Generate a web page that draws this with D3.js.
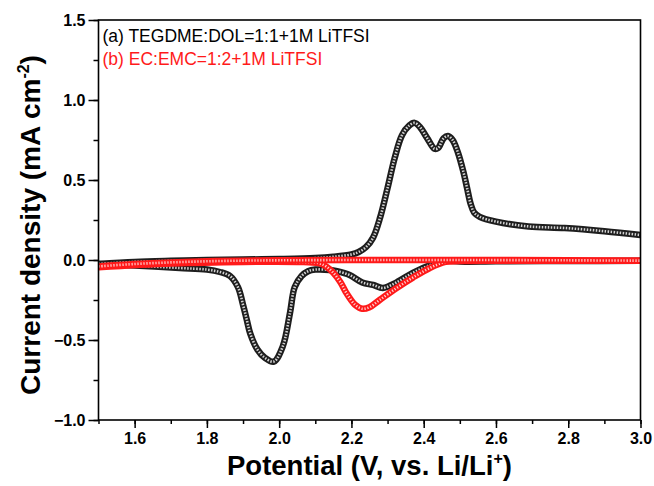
<!DOCTYPE html>
<html>
<head>
<meta charset="utf-8">
<script src="https://cdn.jsdelivr.net/npm/d3@7"></script>
<style>
  body { margin: 0; background: #fff; }
  svg { font-family: "Liberation Sans", Arial, sans-serif; }
</style>
</head>
<body>
<svg id="chart" width="654" height="486"></svg>
<script>
// (a) TEGDME:DOL — anodic scan (1.5 -> 3.0 V)
var aAnodicV = [1.50, 1.60, 1.70, 1.80, 1.90, 2.00, 2.10, 2.15, 2.20, 2.22, 2.24, 2.26, 2.28, 2.30, 2.32, 2.34, 2.36, 2.375, 2.39, 2.41, 2.43, 2.44, 2.455, 2.467, 2.48, 2.495, 2.51, 2.52, 2.53, 2.54, 2.555, 2.60, 2.69, 2.79, 2.90, 3.00];
var aAnodicI = [-0.025, -0.012, -0.005, 0.0, 0.003, 0.006, 0.012, 0.02, 0.035, 0.05, 0.08, 0.14, 0.27, 0.45, 0.64, 0.78, 0.84, 0.857, 0.83, 0.76, 0.695, 0.70, 0.76, 0.775, 0.75, 0.67, 0.55, 0.45, 0.35, 0.295, 0.27, 0.24, 0.21, 0.20, 0.18, 0.156];
// (a) cathodic scan (3.0 -> 1.5 V)
var aCathodicV = [3.00, 2.80, 2.60, 2.50, 2.46, 2.42, 2.37, 2.325, 2.287, 2.26, 2.23, 2.195, 2.16, 2.14, 2.10, 2.08, 2.062, 2.043, 2.03, 2.01, 1.985, 1.96, 1.94, 1.92, 1.91, 1.90, 1.886, 1.864, 1.836, 1.80, 1.725, 1.60, 1.50];
var aCathodicI = [-0.005, -0.006, -0.008, -0.01, -0.005, -0.03, -0.08, -0.14, -0.175, -0.156, -0.14, -0.094, -0.07, -0.062, -0.06, -0.07, -0.10, -0.17, -0.33, -0.54, -0.635, -0.61, -0.56, -0.46, -0.37, -0.28, -0.17, -0.10, -0.075, -0.06, -0.05, -0.035, -0.025];

// (b) EC:EMC — anodic scan
var bAnodicV = [1.50, 1.60, 1.70, 1.80, 1.90, 2.00, 2.20, 2.50, 2.80, 3.00];
var bAnodicI = [-0.04, -0.025, -0.015, -0.008, -0.004, -0.002, 0.0, 0.0, -0.002, -0.004];
// (b) cathodic scan
var bCathodicV = [3.00, 2.60, 2.50, 2.46, 2.417, 2.37, 2.325, 2.278, 2.25, 2.23, 2.21, 2.187, 2.17, 2.15, 2.13, 2.11, 2.05, 1.90, 1.70, 1.50];
var bCathodicI = [-0.004, -0.005, -0.007, -0.012, -0.05, -0.11, -0.175, -0.25, -0.295, -0.305, -0.28, -0.21, -0.14, -0.08, -0.04, -0.02, -0.012, -0.012, -0.022, -0.045];

var xTicks = [1.6, 1.8, 2.0, 2.2, 2.4, 2.6, 2.8, 3.0];
var yTicks = [-1.0, -0.5, 0.0, 0.5, 1.0, 1.5];
var legendLabels = ["(a) TEGDME:DOL=1:1+1M LiTFSI", "(b) EC:EMC=1:2+1M LiTFSI"];

var margin = { top: 20, right: 13.5, bottom: 66, left: 98.5 };
var W = 654, H = 486;
var width = W - margin.left - margin.right;
var height = H - margin.top - margin.bottom;

var svg = d3.select("#chart");
var g = svg.append("g").attr("transform", "translate(" + margin.left + "," + margin.top + ")");

var x = d3.scaleLinear().domain([1.5, 3.0]).range([0, width]);
var y = d3.scaleLinear().domain([-1.0, 1.5]).range([height, 0]);

g.append("clipPath").attr("id", "clip")
  .append("rect").attr("width", width).attr("height", height);

function zip(vs, is) {
  return vs.map(function (v, i) { return [v, is[i]]; });
}

var line = d3.line()
  .x(function (d) { return x(d[0]); })
  .y(function (d) { return y(d[1]); })
  .curve(d3.curveCatmullRom.alpha(0.5));

var plot = g.append("g").attr("clip-path", "url(#clip)");

// draw one branch as a band of overlapping open circles
function drawBranch(data, color, inner, dash) {
  plot.append("path")
    .attr("d", line(data))
    .attr("fill", "none")
    .attr("stroke", color)
    .attr("stroke-width", 6.5)
    .attr("stroke-linejoin", "round");
  plot.append("path")
    .attr("d", line(data))
    .attr("fill", "none")
    .attr("stroke", "#fff")
    .attr("stroke-opacity", 0.8)
    .attr("stroke-width", inner)
    .attr("stroke-dasharray", dash);
}

drawBranch(zip(aCathodicV, aCathodicI), "#1e1e1e", 2.6, "1.5 1.5");
drawBranch(zip(aAnodicV, aAnodicI), "#1e1e1e", 2.6, "1.5 1.5");
drawBranch(zip(bCathodicV, bCathodicI), "#ff1a1a", 2.6, "1.2 1.8");
drawBranch(zip(bAnodicV, bAnodicI), "#ff1a1a", 2.6, "1.2 1.8");

// axes: major + minor ticks
var xAxisG = g.append("g").attr("transform", "translate(0," + height + ")");
xAxisG.call(d3.axisBottom(x).tickValues(d3.range(1.5, 3.01, 0.1)).tickSize(4).tickFormat(""));
xAxisG.append("g").call(d3.axisBottom(x).tickValues(xTicks).tickSize(8).tickPadding(5).tickFormat(d3.format(".1f")));

var yAxisG = g.append("g");
yAxisG.call(d3.axisLeft(y).tickValues(d3.range(-1.0, 1.51, 0.25)).tickSize(5).tickFormat(""));
yAxisG.append("g").call(d3.axisLeft(y).tickValues(yTicks).tickSize(10).tickPadding(3).tickFormat(d3.format(".1f")));

g.selectAll(".domain").remove();
g.selectAll(".tick line").attr("stroke", "#000").attr("stroke-width", 1.5);
g.selectAll(".tick text")
  .attr("fill", "#000")
  .attr("font-family", "'Liberation Sans', Arial, sans-serif")
  .attr("font-size", 16)
  .attr("font-weight", "bold");

// frame
g.append("rect")
  .attr("width", width).attr("height", height)
  .attr("fill", "none").attr("stroke", "#000").attr("stroke-width", 1.6);

// legend text
g.append("text").attr("x", 4).attr("y", 22)
  .attr("font-size", "17.5px").attr("fill", "#000").text(legendLabels[0]);
g.append("text").attr("x", 4).attr("y", 45)
  .attr("font-size", "17.5px").attr("fill", "#ff1a1a").text(legendLabels[1]);

// axis titles
var xt = svg.append("text")
  .attr("x", margin.left + width / 2).attr("y", 475)
  .attr("text-anchor", "middle")
  .attr("font-size", "27.5px").attr("font-weight", "bold");
xt.append("tspan").text("Potential (V, vs. Li/Li");
xt.append("tspan").attr("font-size", "16px").attr("dy", -11).text("+");
xt.append("tspan").attr("dy", 11).text(")");

var yt = svg.append("text")
  .attr("transform", "translate(40,225) rotate(-90)")
  .attr("text-anchor", "middle")
  .attr("font-size", "28px").attr("font-weight", "bold");
yt.append("tspan").text("Current density (mA cm");
yt.append("tspan").attr("font-size", "16px").attr("dy", -11).text("-2");
yt.append("tspan").attr("dy", 11).text(")");
</script>
</body>
</html>
